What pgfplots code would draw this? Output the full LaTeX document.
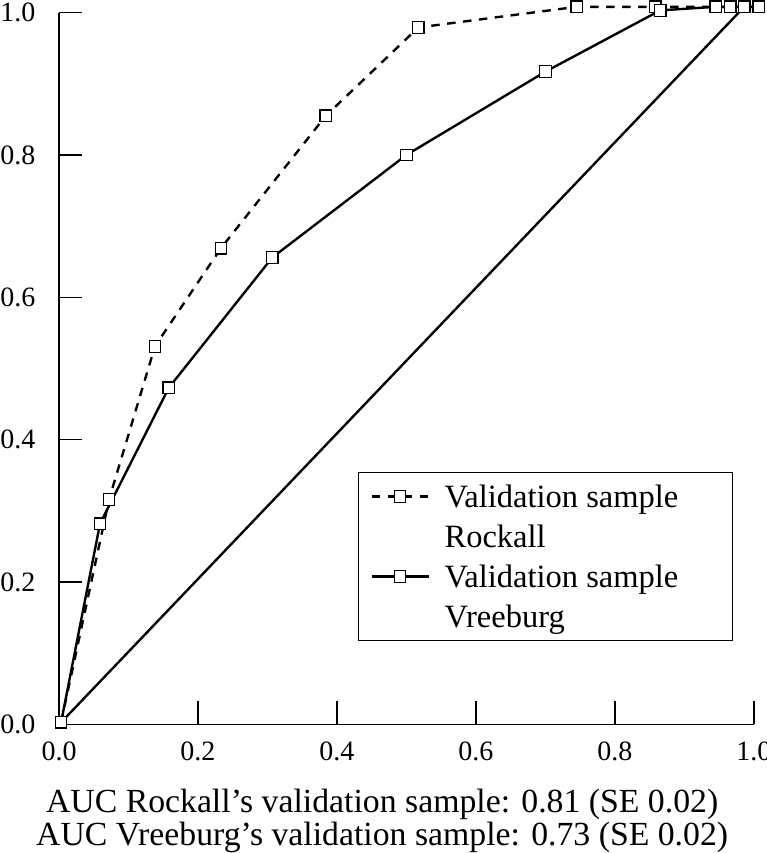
\documentclass[border=0pt]{standalone}
\usepackage{pgfplots}
\pgfplotsset{compat=1.18}
\usepackage{fontspec}
\setmainfont{Liberation Serif}

\begin{document}
\begin{tikzpicture}
\begin{axis}[
  width=278pt, height=284.8pt, scale only axis,
  xmin=0, xmax=1, ymin=0, ymax=1,
  clip=false,
  axis x line=bottom, axis y line=left,
  axis line style={-, line width=0.5pt},
  x axis line style={-}, y axis line style={-},
  tick align=inside,
  major tick length=9.2pt,
  tick style={black, line width=0.5pt},
  xtick={0,0.2,0.4,0.6,0.8,1.0},
  ytick={0,0.2,0.4,0.6,0.8,1.0},
  tick label style={font=\fontsize{11.2}{13}\selectfont},
  xticklabel style={yshift=-3.3pt},
  yticklabel style={xshift=-5.9pt},
  /pgf/number format/.cd, fixed, fixed zerofill, precision=1, assume math mode=true,
  /pgfplots/.cd,
  legend style={at={(axis cs:0.430,0.3546)}, anchor=north west,
    draw=black, line width=0.45pt, inner xsep=4.8pt, inner ysep=1.6pt,
    font=\fontsize{13}{16}\selectfont, row sep=0pt,
    nodes={inner sep=0pt, text height=12.4pt, text depth=3.6pt}},
  legend cell align=left,
  legend image code/.code={\draw[mark repeat=2, mark phase=2, #1]
    plot coordinates {(0pt,0pt) (11.4pt,0pt) (22.8pt,0pt)};
    \path[draw=none, fill=none] (0pt,0pt) rectangle (29.2pt,0.1pt);},
]

% diagonal reference line
\addplot[black, line width=0.95pt, forget plot] coordinates {(0.003,0.003) (0.986,1.008)};

\addplot[black, line width=0.95pt, dash pattern=on 3.4pt off 3pt,
  mark=square*, mark size=2.3pt,
  mark options={solid, fill=white, draw=black, line width=0.5pt}]
coordinates {
(0.003,0.003) (0.072,0.316) (0.138,0.531) (0.233,0.669) (0.384,0.855)
(0.517,0.979) (0.745,1.008) (0.858,1.008) (0.945,1.008) (0.966,1.008)
(0.986,1.008) (1.007,1.008)
};
\addlegendentry{\makebox[110.4pt][l]{Validation sample}}
\addlegendimage{empty legend}
\addlegendentry{Rockall}

\addplot[black, line width=0.95pt, solid,
  mark=square*, mark size=2.3pt,
  mark options={solid, fill=white, draw=black, line width=0.5pt}]
coordinates {
(0.003,0.003) (0.059,0.282) (0.158,0.473) (0.307,0.656) (0.500,0.800)
(0.700,0.917) (0.865,1.003) (0.945,1.008) (0.966,1.008) (0.986,1.008)
(1.007,1.008)
};
\addlegendentry{\makebox[110.4pt][l]{Validation sample}}
\addlegendimage{empty legend}
\addlegendentry{Vreeburg}

\node[anchor=base, font=\fontsize{13.5}{14}\selectfont] at (axis cs:0.465,-0.1243)
  {AUC Rockall’s validation sample: 0.81 (SE 0.02)};
\node[anchor=base, font=\fontsize{13.5}{14}\selectfont] at (axis cs:0.465,-0.1706)
  {AUC Vreeburg’s validation sample: 0.73 (SE 0.02)};

\coordinate (bbll) at (axis cs:-0.0849,-0.1805);
\coordinate (bbur) at (axis cs:1.0173,1.0176);
\end{axis}
\pgfresetboundingbox
\path[use as bounding box] (bbll) rectangle (bbur);
\end{tikzpicture}
\end{document}
